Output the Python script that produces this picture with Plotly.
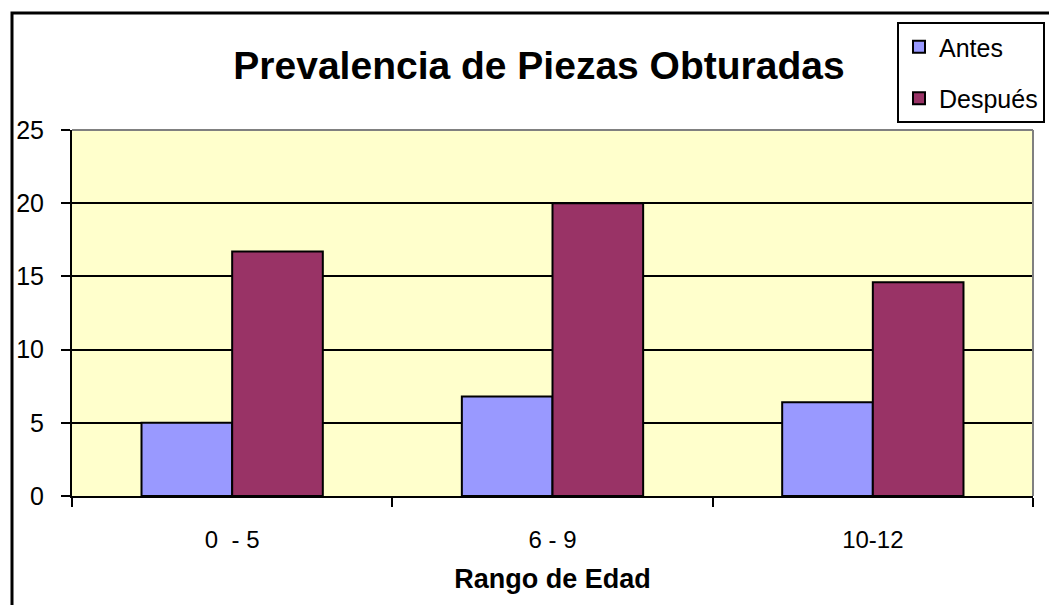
import plotly.graph_objects as go

categories = ["0\u00a0 - 5", "6 - 9", "10-12"]
antes = [5.0, 6.8, 6.4]
despues = [16.7, 20.0, 14.6]
y_ticks = [0, 5, 10, 15, 20, 25]

FONT = "Arial, 'Liberation Sans', sans-serif"

W, H = 1049, 605
ML, MR, MT, MB = 72, 16, 130, 109
PW, PH = W - ML - MR, H - MT - MB

def px_x(px):
    return (px - ML) / PW

def px_y(py):
    return 1 - (py - MT) / PH

fig = go.Figure()
fig.add_trace(go.Bar(name="Antes", x=categories, y=antes,
                     marker=dict(color="#9999FF", line=dict(color="black", width=2)),
                     legendgroup="a"))
fig.add_trace(go.Bar(name="Después", x=categories, y=despues,
                     marker=dict(color="#993366", line=dict(color="black", width=2)),
                     legendgroup="b"))

fig.update_layout(
    width=W, height=H,
    margin=dict(l=ML, r=MR, t=MT, b=MB, autoexpand=False),
    paper_bgcolor="white",
    plot_bgcolor="#FFFFCC",
    barmode="group", bargap=0.434, bargroupgap=0,
    font=dict(family=FONT, color="black", size=24),
    title=dict(text="<b>Prevalencia de Piezas Obturadas</b>",
               font=dict(size=39, family=FONT, color="black"),
               x=539 / W, xanchor="center", y=1 - 65 / H, yanchor="middle"),
    legend=dict(x=px_x(897), y=px_y(22), xanchor="left", yanchor="top",
                bordercolor="black", borderwidth=2, bgcolor="white",
                font=dict(size=25, family=FONT), tracegroupgap=16,
                traceorder="grouped"),
    showlegend=True,
    xaxis=dict(type="category", tickson="boundaries", ticks="outside", ticklen=9,
               tickwidth=2, tickcolor="black", showline=True, linecolor="black",
               linewidth=2, mirror=False, showgrid=False,
               tickfont=dict(size=24, family=FONT), ticklabelstandoff=21,
               title=dict(text="<b>Rango de Edad</b>", font=dict(size=27, family=FONT),
                          standoff=17)),
    yaxis=dict(range=[0, 25], tickvals=y_ticks, ticks="outside", ticklen=9,
               tickwidth=2, tickcolor="black", showline=True, linecolor="black",
               linewidth=2, showgrid=True, gridcolor="black", gridwidth=2,
               zeroline=False, tickfont=dict(size=25, family=FONT),
               ticklabelstandoff=12),
)

# plot-area border (gray top and right edges)
fig.add_shape(type="line", xref="paper", yref="paper", x0=0, x1=1, y0=1, y1=1,
              line=dict(color="#808080", width=2), layer="above")
fig.add_shape(type="line", xref="paper", yref="paper", x0=1, x1=1, y0=0, y1=1,
              line=dict(color="#808080", width=2), layer="above")

# outer chart frame (extends beyond the image on right and bottom)
fig.add_shape(type="rect", xref="paper", yref="paper",
              x0=px_x(12), x1=px_x(1100), y0=px_y(700), y1=px_y(13),
              line=dict(color="black", width=3), fillcolor="rgba(0,0,0,0)", layer="above")

fig.write_html("out.html", config={"displayModeBar": False},
               post_script="document.body.style.margin='0';document.body.style.overflow='hidden';")
